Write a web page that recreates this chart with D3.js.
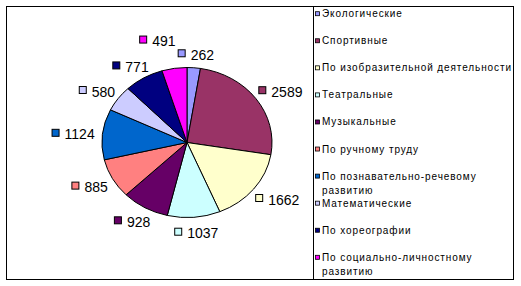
<!DOCTYPE html>
<html>
<head>
<meta charset="utf-8">
<script src="https://cdn.jsdelivr.net/npm/d3@7"></script>
<style>
  body { margin: 0; background: #fff; }
  svg { display: block; }
</style>
</head>
<body>
<script>
// data
const categories = ["Экологические", "Спортивные", "По изобразительной деятельности", "Театральные", "Музыкальные",
    "По ручному труду", "По познавательно-речевому развитию", "Математические", "По хореографии", "По социально-личностному развитию"];
const values = [262, 2589, 1662, 1037, 928, 885, 1124, 580, 771, 491];
const colors = ["#9999ff", "#993366", "#ffffcc", "#ccffff", "#660066", "#ff8080", "#0066cc", "#ccccff", "#000080", "#ff00ff"];

const width = 521, height = 286;
const svg = d3.select("body").append("svg").attr("width", width).attr("height", height);

// frame + legend divider
svg.append("rect").attr("x", 6.5).attr("y", 6.5).attr("width", 507).attr("height", 273)
    .attr("fill", "none").attr("stroke", "#000");
svg.append("line").attr("x1", 313.5).attr("x2", 313.5).attr("y1", 6.5).attr("y2", 279.5).attr("stroke", "#000");

// pie
const cx = 187, cy = 142.5, r = 85, ry = 75;
const pie = d3.pie().sort(null).value(d => d);
const arcs = pie(values);
const arc = d3.arc().innerRadius(0).outerRadius(r);

svg.append("g")
    .attr("transform", "translate(" + cx + "," + cy + ") scale(1," + (ry / r) + ")")
    .selectAll("path")
    .data(arcs)
    .enter()
    .append("path")
    .attr("d", arc)
    .attr("fill", (d, i) => colors[i])
    .attr("stroke", "#000")
    .attr("stroke-width", 1)
    .attr("vector-effect", "non-scaling-stroke");

// value labels: box + number, placed just outside the pie along the slice middle
const lcx = 187, lcy = 144, lrx = 92, lry = 81;
const boxSize = 8, gap = 5, capH = 11, padTop = 3, padBottom = 3, padX = 1;

const labels = svg.append("g").selectAll("g")
    .data(arcs)
    .enter()
    .append("g");

labels.append("rect")
    .attr("x", 0.5).attr("y", 0.5)
    .attr("width", boxSize - 1).attr("height", boxSize - 1)
    .attr("fill", (d, i) => colors[i])
    .attr("stroke", "#000");

labels.append("text")
    .attr("x", boxSize + gap)
    .attr("y", 10.5)
    .attr("font-family", "Arial, 'Liberation Sans', sans-serif")
    .attr("font-size", 14)
    .text(d => d.value);

const placed = [];
labels.each(function(d, i) {
    const tw = d3.select(this).select("text").node().getComputedTextLength();
    const ang = (d.startAngle + d.endAngle) / 2;
    const s = Math.sin(ang), c = Math.cos(ang);
    const w = boxSize + gap + tw + 2 * padX;
    const h = capH + padTop + padBottom;
    const ax = lcx + lrx * s, ay = lcy - lry * c;
    const b = {x: ax - w * (1 - s) / 2, y: ay - h * (1 + c) / 2, w: w, h: h, ang: ang};

    // push away from labels already placed
    for (let k = 0; k < 300; k++) {
        const hit = placed.find(p => b.x < p.x + p.w && p.x < b.x + b.w && b.y < p.y + p.h && p.y < b.y + b.h);
        if (!hit) break;
        let diff = hit.ang - ang;
        while (diff > Math.PI) diff -= 2 * Math.PI;
        while (diff < -Math.PI) diff += 2 * Math.PI;
        const dir = diff > 0 ? -1 : 1;
        const mx = 1.5 * s + dir * c, my = -1.5 * c + dir * s;
        const len = Math.hypot(mx, my);
        b.x += 0.5 * mx / len;
        b.y += 0.5 * my / len;
    }
    placed.push(b);
    d3.select(this).attr("transform", "translate(" + (b.x + padX) + "," + (b.y + padTop) + ")");
});

// legend
const legendY = d3.scalePoint().domain(categories).range([13.7, 257.3]);
const legendMaxW = 194;

const legend = svg.append("g").selectAll("g")
    .data(categories)
    .enter()
    .append("g")
    .attr("transform", d => "translate(0," + legendY(d) + ")");

legend.append("rect")
    .attr("x", 315.5).attr("y", -2)
    .attr("width", 4).attr("height", 4)
    .attr("fill", (d, i) => colors[i])
    .attr("stroke", "#000")
    .attr("stroke-width", 0.8);

legend.each(function(d) {
    const g = d3.select(this);
    const words = d.split(" ");
    let line = [];
    let lineNo = 0;
    let t = g.append("text").attr("x", 322).attr("y", 3.5);
    const style = sel => sel.attr("font-family", "Arial, 'Liberation Sans', sans-serif")
        .attr("font-size", 10).attr("letter-spacing", 0.9).attr("fill", "#000");
    style(t);
    words.forEach(wd => {
        line.push(wd);
        t.text(line.join(" "));
        if (t.node().getComputedTextLength() > legendMaxW && line.length > 1) {
            line.pop();
            t.text(line.join(" "));
            line = [wd];
            lineNo++;
            t = g.append("text").attr("x", 322).attr("y", 3.5 + lineNo * 14.3).text(wd);
            style(t);
        }
    });
});
</script>
</body>
</html>
